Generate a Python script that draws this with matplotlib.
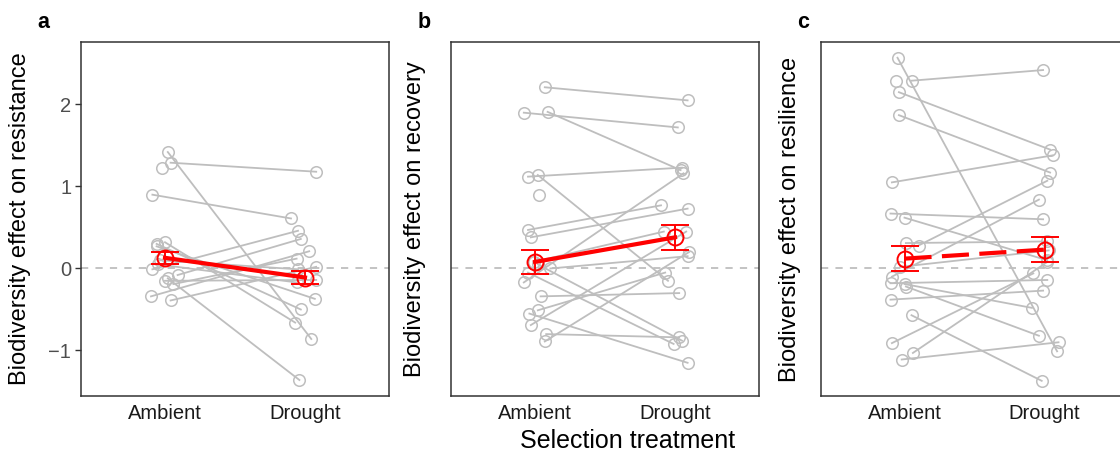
import numpy as np
import matplotlib
matplotlib.use("Agg")
import matplotlib.pyplot as plt

plt.rcParams['font.family'] = ['Liberation Sans', 'DejaVu Sans']

nan = np.nan
categories = ["Ambient", "Drought"]
panel_letters = ["a", "b", "c"]
ylabels = ["Biodiversity effect on resistance",
           "Biodiversity effect on recovery",
           "Biodiversity effect on resilience"]
yticks = [-1, 0, 1, 2]

# ---- panel a: resistance ----
a_amb_dx = [0.02, 0.04, -0.02, -0.09, -0.06, 0.00, -0.06, -0.09, 0.09, 0.02, 0.00, 0.06, -0.10, 0.04, -0.05, -0.035]
a_amb_y  = [1.42, 1.29, 1.23, 0.90, 0.30, 0.32, 0.27, -0.01, -0.08, -0.12, -0.15, -0.19, -0.34, -0.39, 0.05, 0.10]
a_dro_dx = [0.045, 0.08, 0.0, -0.10, -0.03, -0.07, 0.07, -0.05, -0.03, -0.04, 0.08, -0.06, 0.03, 0.08, -0.06, -0.05]
a_dro_y  = [-0.86, 1.18, nan, 0.61, -0.50, -0.66, -0.37, 0.46, 0.36, -1.36, -0.14, 0.12, 0.21, 0.02, -0.17, -0.01]
a_mean = [0.13, -0.11]
a_se = [0.075, 0.08]

# ---- panel b: recovery ----
b_amb_dx = [0.07, -0.08, 0.09, -0.05, 0.02, 0.03, -0.05, -0.03, -0.08, 0.02, -0.05, 0.11, 0.04, -0.04, 0.02, -0.03, 0.08, 0.07, -0.01]
b_amb_y  = [2.21, 1.90, 1.91, 1.12, 1.14, 0.90, 0.47, 0.38, -0.17, 0.05, -0.05, 0.00, -0.34, -0.55, -0.51, -0.69, -0.80, -0.89, 0.08]
b_dro_dx = [0.09, 0.02, 0.04, 0.05, -0.05, 0.0, -0.10, 0.09, 0.06, 0.05, -0.01, 0.09, 0.03, 0.09, -0.07, 0.08, 0.03, 0.10, -0.08]
b_dro_y  = [2.05, 1.72, 1.20, 1.23, -0.15, nan, 0.77, 0.73, 1.16, -0.88, -0.92, 0.15, -0.30, -1.15, -0.05, 0.45, -0.84, 0.20, 0.45]
b_mean = [0.08, 0.38]
b_se = [0.15, 0.155]

# ---- panel c: resilience ----
c_amb_dx = [-0.05, 0.05, -0.06, -0.04, -0.04, -0.09, -0.10, 0.00, 0.01, 0.10, -0.03, -0.09, -0.10, 0.01, 0.00, -0.10, 0.05, -0.09, 0.06, -0.02]
c_amb_y  = [2.57, 2.29, 2.29, 2.15, 1.87, 1.05, 0.67, 0.62, 0.31, 0.28, 0.02, -0.10, -0.18, -0.22, -0.19, -0.38, -0.57, -0.91, -1.03, -1.11]
c_dro_dx = [0.09, -0.01, 0.0, 0.04, 0.04, 0.06, -0.01, 0.02, 0.02, 0.02, 0.03, -0.04, 0.02, -0.04, -0.09, -0.01, -0.02, -0.08, 0.02, 0.10]
c_dro_y  = [-1.01, 2.42, nan, 1.45, 1.17, 1.38, 0.60, 0.10, 0.33, 1.07, 0.22, 0.84, -0.14, -0.82, -0.48, -0.27, -1.37, -0.06, 0.08, -0.90]
c_mean = [0.12, 0.23]
c_se = [0.155, 0.15]

panels = [
    (a_amb_dx, a_amb_y, a_dro_dx, a_dro_y, a_mean, a_se, '-'),
    (b_amb_dx, b_amb_y, b_dro_dx, b_dro_y, b_mean, b_se, '-'),
    (c_amb_dx, c_amb_y, c_dro_dx, c_dro_y, c_mean, c_se, (0, (6.5, 2.5))),
]

W, H = 1120, 453
fig = plt.figure(figsize=(W / 100, H / 100), dpi=100)
lefts = [81, 451, 820.5]
ylabel_x = [20, 415, 790]
letter_x = [43, 424, 803]
pw, ptop, pbot = 308, 42, 396

gray = '#BEBEBE'
red = '#FF0000'
for i, (adx, ay, ddx, dy, mean, se, rls) in enumerate(panels):
    ax = fig.add_axes([lefts[i] / W, (H - pbot) / H, pw / W, (pbot - ptop) / H])
    ax.set_xlim(0.4, 2.6)
    ax.set_ylim(-1.555, 2.762)
    ax.axhline(0, color=gray, lw=1.3, ls=(0, (4, 4)), zorder=1)
    xa = 1 + np.array(adx)
    xd = 2 + np.array(ddx)
    ya = np.array(ay)
    yd = np.array(dy)
    for k in range(len(ya)):
        if not np.isnan(yd[k]):
            ax.plot([xa[k], xd[k]], [ya[k], yd[k]], color=gray, lw=1.3, zorder=2)
    ax.plot(xa, ya, 'o', ms=8.3, mfc='none', mec=gray, mew=1.1, zorder=3)
    ax.plot(xd, yd, 'o', ms=8.3, mfc='none', mec=gray, mew=1.1, zorder=3)
    ax.plot([1, 2], mean, color=red, lw=3.0, ls=rls, zorder=4, dash_capstyle='butt')
    ax.errorbar([1, 2], mean, yerr=se, fmt='o', ms=11.5, mfc='none', mec=red, mew=1.4,
                ecolor=red, elinewidth=1.4, capsize=10, capthick=1.4, zorder=5)
    ax.set_xticks([1, 2])
    ax.set_xticklabels(categories, fontsize=14.5, color='#1a1a1a')
    ax.tick_params(axis='x', length=0, pad=6)
    if i == 0:
        ax.set_yticks(yticks)
        ax.set_yticklabels(['\u22121', '0', '1', '2'], fontsize=14.5, color='#4d4d4d')
        ax.tick_params(axis='y', length=4, width=1, color='#333333', pad=3)
    else:
        ax.set_yticks([])
    for s in ax.spines.values():
        s.set_color('#333333')
        s.set_linewidth(1.1)
    fig.text(ylabel_x[i] / W, (H - (ptop + pbot) / 2) / H, ylabels[i], fontsize=17,
             rotation=90, ha='center', va='center')
    fig.text(letter_x[i] / W, 1 - 22 / H, panel_letters[i], fontsize=15.5,
             fontweight='bold', ha='center', va='center')

fig.text(628 / W, 1 - 441 / H, "Selection treatment", fontsize=18,
         ha='center', va='center')

fig.savefig('out.png', dpi=100)
